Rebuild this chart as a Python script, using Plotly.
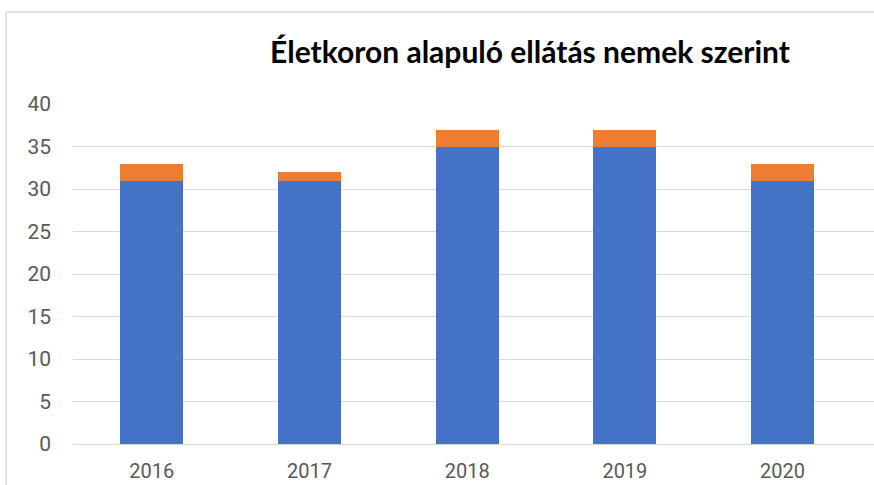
import plotly.graph_objects as go

# Data: yearly totals split into two stacked groups
years = ["2016", "2017", "2018", "2019", "2020"]
series_a = [31, 31, 35, 35, 31]
series_b = [2, 1, 2, 2, 2]

title_text = "Életkoron alapuló ellátás nemek szerint"
y_ticks = [0, 5, 10, 15, 20, 25, 30, 35, 40]

BLUE = "#4472C4"
ORANGE = "#ED7D31"
GRID = "#D9D9D9"
TXT = "#595959"
FONT = "Roboto, Open Sans, sans-serif"

fig = go.Figure()
fig.add_trace(go.Bar(x=years, y=series_a, marker=dict(color=BLUE, line=dict(width=0)), name="A"))
fig.add_trace(go.Bar(x=years, y=series_b, marker=dict(color=ORANGE, line=dict(width=0)), name="B"))

# plot area spans 73..874 px horizontally and 104..444 px vertically
PW, PH = 801, 340

fig.update_layout(
    width=874, height=485,
    barmode="stack", bargap=0.6,
    showlegend=False,
    plot_bgcolor="white", paper_bgcolor="white",
    margin=dict(l=73, r=0, t=104, b=41),
    title=dict(
        text="<b>" + title_text + "</b>",
        x=530 / 874, xanchor="center", xref="container",
        y=1 - 52 / 485, yanchor="middle", yref="container",
        font=dict(family="Lato, Open Sans, sans-serif", size=30, color="#000000"),
    ),
    xaxis=dict(
        type="category", range=[-0.5, 4.58], automargin=False,
        showgrid=False, showline=False, zeroline=False,
        ticks="", ticklabelstandoff=13,
        tickfont=dict(family=FONT, size=20, color=TXT),
    ),
    yaxis=dict(
        range=[0, 40], tickvals=y_ticks, automargin=False,
        showgrid=True, gridcolor=GRID, gridwidth=1,
        zeroline=True, zerolinecolor=GRID, zerolinewidth=1,
        showline=False, ticks="", ticklabelstandoff=21,
        tickfont=dict(family=FONT, size=21, color=TXT),
    ),
    shapes=[
        # chart frame: top and left edges
        dict(type="line", xref="paper", yref="paper",
             x0=-67 / PW, x1=1, y0=(444 - 12) / PH, y1=(444 - 12) / PH,
             line=dict(color=GRID, width=1.5)),
        dict(type="line", xref="paper", yref="paper",
             x0=-67 / PW, x1=-67 / PW, y0=(444 - 485) / PH, y1=(444 - 12) / PH,
             line=dict(color=GRID, width=1.5)),
    ],
)

fig.write_html("out.html")
